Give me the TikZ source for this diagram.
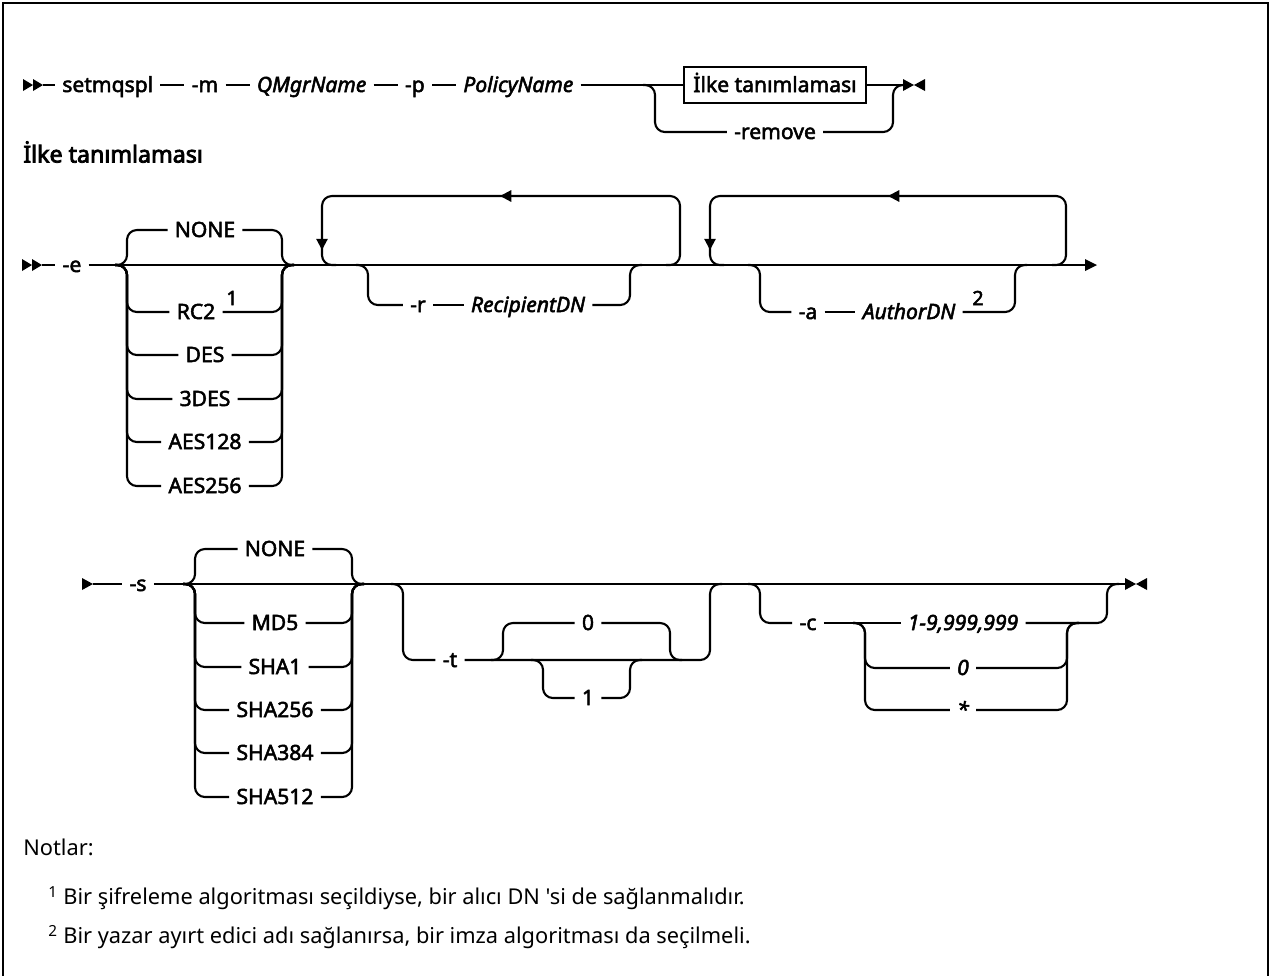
\documentclass[tikz,border=0pt]{standalone}
\usepackage{fontspec}
\setmainfont{Noto Sans}
\newfontfamily\railfont[FakeBold=2.4]{Noto Sans}
\newfontfamily\headfont[FakeBold=3.5]{Noto Sans}
\newfontfamily\notefont[Ligatures=TeXOff]{Noto Sans}
\usepackage{tikz}
\usetikzlibrary{arrows.meta, positioning}

\begin{document}
\begin{tikzpicture}[
        x=0.025cm,
        y=-0.025cm,
        rail/.style={line width=1.5pt,rounded corners=7pt},
        lbl/.style={font=\railfont\fontsize{15}{18}\selectfont,inner xsep=5pt,inner ysep=1pt,text height=11pt,text depth=1pt},
        var/.style={lbl,font=\railfont\fontsize{15}{18}\selectfont\itshape},
        sup/.style={font=\railfont\fontsize{14}{16}\selectfont,inner sep=1pt},
        ilkebox/.style={lbl,draw,line width=1.5pt,minimum width=129pt,minimum height=25pt},
        note/.style={font=\notefont\fontsize{15.5}{19}\selectfont,inner sep=0pt,anchor=west},
        back/.style={line width=1.5pt,-{Triangle[length=8pt,width=8pt]}}
    ]
        \useasboundingbox (0,0) rectangle (1271,975);
        \draw[line width=2pt] (3,985) -- (3,3) -- (1268,3) -- (1268,985);

        % ana komut
        \fill (23,79) -- (33,85) -- (23,91) -- cycle;
        \fill (33,79) -- (43,85) -- (33,91) -- cycle;
        \node[lbl,anchor=west] (cmd) at (55,85) {setmqspl};
        \node[lbl,right=0.6cm of cmd] (optm) {-m};
        \node[var,right=0.6cm of optm] (qmgr) {QMgrName};
        \node[lbl,right=0.6cm of qmgr] (optp) {-p};
        \node[var,right=0.6cm of optp] (policy) {PolicyName};
        \node[ilkebox] (ilke) at (775,85) {İlke tanımlaması};
        \node[lbl] (remove) at (775,132) {-remove};
        \draw[rail] (43,85) -- (cmd);
        \draw[rail] (cmd) -- (optm);
        \draw[rail] (optm) -- (qmgr);
        \draw[rail] (qmgr) -- (optp);
        \draw[rail] (optp) -- (policy);
        \draw[rail] (policy) -- (ilke);
        \draw[rail] (ilke) -- (905,85);
        \draw[rail] (643,85) -- (655,85) -- (655,132) -- (remove);
        \draw[rail] (remove) -- (893,132) -- (893,85) -- (905,85);
        \fill (903,79) -- (914,85) -- (903,91) -- cycle;
        \fill (925,79) -- (914,85) -- (925,91) -- cycle;

        \node[font=\headfont\fontsize{16.5}{19}\selectfont,anchor=west,inner sep=0pt] (hdr) at (23,152) {İlke tanımlaması};

        % -e satiri
        \fill (22,259) -- (32,265) -- (22,271) -- cycle;
        \fill (32,259) -- (42,265) -- (32,271) -- cycle;
        \node[lbl] (opte) at (72,265) {-e};
        \draw[rail] (42,265) -- (opte);
        \draw[rail] (opte) -- (1085,265);
        \fill (1085,259) -- (1097,265) -- (1085,271) -- cycle;

        \node[lbl] (enone) at (205,230) {NONE};
        \node[lbl] (erc) at (196,312) {RC2};
        \node[sup] (fn1) at (232,298) {1};
        \node[lbl] (edes) at (205,355) {DES};
        \node[lbl] (e3des) at (205,399) {3DES};
        \node[lbl] (eaes1) at (205,442) {AES128};
        \node[lbl] (eaes2) at (205,486) {AES256};
        \draw[rail] (115,265) -- (127,265) -- (127,230) -- (enone);
        \draw[rail] (enone) -- (282,230) -- (282,265) -- (294,265);
        \draw[rail] (115,265) -- (127,265) -- (127,312) -- (erc);
        \draw[rail] (erc) -- (282,312) -- (282,265) -- (294,265);
        \draw[rail] (115,265) -- (127,265) -- (127,355) -- (edes);
        \draw[rail] (edes) -- (282,355) -- (282,265) -- (294,265);
        \draw[rail] (115,265) -- (127,265) -- (127,399) -- (e3des);
        \draw[rail] (e3des) -- (282,399) -- (282,265) -- (294,265);
        \draw[rail] (115,265) -- (127,265) -- (127,442) -- (eaes1);
        \draw[rail] (eaes1) -- (282,442) -- (282,265) -- (294,265);
        \draw[rail] (115,265) -- (127,265) -- (127,486) -- (eaes2);
        \draw[rail] (eaes2) -- (282,486) -- (282,265) -- (294,265);

        % -r tekrari
        \draw[rail] (666,265) -- (680,265) -- (680,196) -- (322,196) -- (322,265) -- (336,265);
        \draw[back] (512,196) -- (500,196);
        \draw[back] (322,232) -- (322,250);
        \node[lbl] (optr) at (418,305) {-r};
        \node[var] (recip) at (528,305) {RecipientDN};
        \draw[rail] (356,265) -- (368,265) -- (368,305) -- (optr);
        \draw[rail] (optr) -- (recip);
        \draw[rail] (recip) -- (630,305) -- (630,265) -- (642,265);

        % -a tekrari
        \draw[rail] (1052,265) -- (1066,265) -- (1066,196) -- (710,196) -- (710,265) -- (724,265);
        \draw[back] (900,196) -- (888,196);
        \draw[back] (710,232) -- (710,250);
        \node[lbl] (opta) at (808,312) {-a};
        \node[var] (author) at (909,312) {AuthorDN};
        \node[sup] (fn2) at (978,298) {2};
        \draw[rail] (748,265) -- (760,265) -- (760,312) -- (opta);
        \draw[rail] (opta) -- (author);
        \draw[rail] (author) -- (1015,312) -- (1015,265) -- (1027,265);

        % -s satiri
        \fill (82,578) -- (93,584) -- (82,590) -- cycle;
        \node[lbl] (opts) at (138,584) {-s};
        \draw[rail] (93,584) -- (opts);
        \draw[rail] (opts) -- (1125,584);
        \fill (1125,578) -- (1136,584) -- (1125,590) -- cycle;
        \fill (1147,578) -- (1136,584) -- (1147,590) -- cycle;

        \node[lbl] (snone) at (275,549) {NONE};
        \node[lbl] (smd) at (275,623) {MD5};
        \node[lbl] (ssha1) at (275,667) {SHA1};
        \node[lbl] (ssha2) at (275,710) {SHA256};
        \node[lbl] (ssha3) at (275,753) {SHA384};
        \node[lbl] (ssha5) at (275,797) {SHA512};
        \draw[rail] (183,584) -- (195,584) -- (195,549) -- (snone);
        \draw[rail] (snone) -- (352,549) -- (352,584) -- (364,584);
        \draw[rail] (183,584) -- (195,584) -- (195,623) -- (smd);
        \draw[rail] (smd) -- (352,623) -- (352,584) -- (364,584);
        \draw[rail] (183,584) -- (195,584) -- (195,667) -- (ssha1);
        \draw[rail] (ssha1) -- (352,667) -- (352,584) -- (364,584);
        \draw[rail] (183,584) -- (195,584) -- (195,710) -- (ssha2);
        \draw[rail] (ssha2) -- (352,710) -- (352,584) -- (364,584);
        \draw[rail] (183,584) -- (195,584) -- (195,753) -- (ssha3);
        \draw[rail] (ssha3) -- (352,753) -- (352,584) -- (364,584);
        \draw[rail] (183,584) -- (195,584) -- (195,797) -- (ssha5);
        \draw[rail] (ssha5) -- (352,797) -- (352,584) -- (364,584);

        % -t secenegi
        \node[lbl] (optt) at (450,660) {-t};
        \node[lbl] (tzero) at (588,623) {0};
        \node[lbl] (tone) at (588,698) {1};
        \draw[rail] (391,584) -- (403,584) -- (403,660) -- (optt);
        \draw[rail] (optt) -- (710,660) -- (710,584) -- (722,584);
        \draw[rail] (491,660) -- (503,660) -- (503,623) -- (tzero);
        \draw[rail] (tzero) -- (670,623) -- (670,660) -- (682,660);
        \draw[rail] (531,660) -- (543,660) -- (543,698) -- (tone);
        \draw[rail] (tone) -- (630,698) -- (630,660) -- (642,660);

        % -c secenegi
        \node[lbl] (optc) at (808,623) {-c};
        \node[var] (cnum) at (963,623) {1-9,999,999};
        \node[var] (czero) at (963,668) {0};
        \node[var] (cstar) at (963,710) {*};
        \draw[rail] (748,584) -- (760,584) -- (760,623) -- (optc);
        \draw[rail] (optc) -- (cnum);
        \draw[rail] (cnum) -- (1107,623) -- (1107,584) -- (1119,584);
        \draw[rail] (853,623) -- (865,623) -- (865,668) -- (czero);
        \draw[rail] (czero) -- (1067,668) -- (1067,623) -- (1079,623);
        \draw[rail] (853,623) -- (865,623) -- (865,710) -- (cstar);
        \draw[rail] (cstar) -- (1067,710) -- (1067,623) -- (1079,623);

        % notlar
        \node[note] (notlar) at (23,847) {Notlar:};
        \node[note] (not1) at (48,898) {\textsuperscript{1} Bir şifreleme algoritması seçildiyse, bir alıcı DN 'si de sağlanmalıdır.};
        \node[note] (not2) at (48,937) {\textsuperscript{2} Bir yazar ayırt edici adı sağlanırsa, bir imza algoritması da seçilmeli.};
    \end{tikzpicture}
\end{document}
